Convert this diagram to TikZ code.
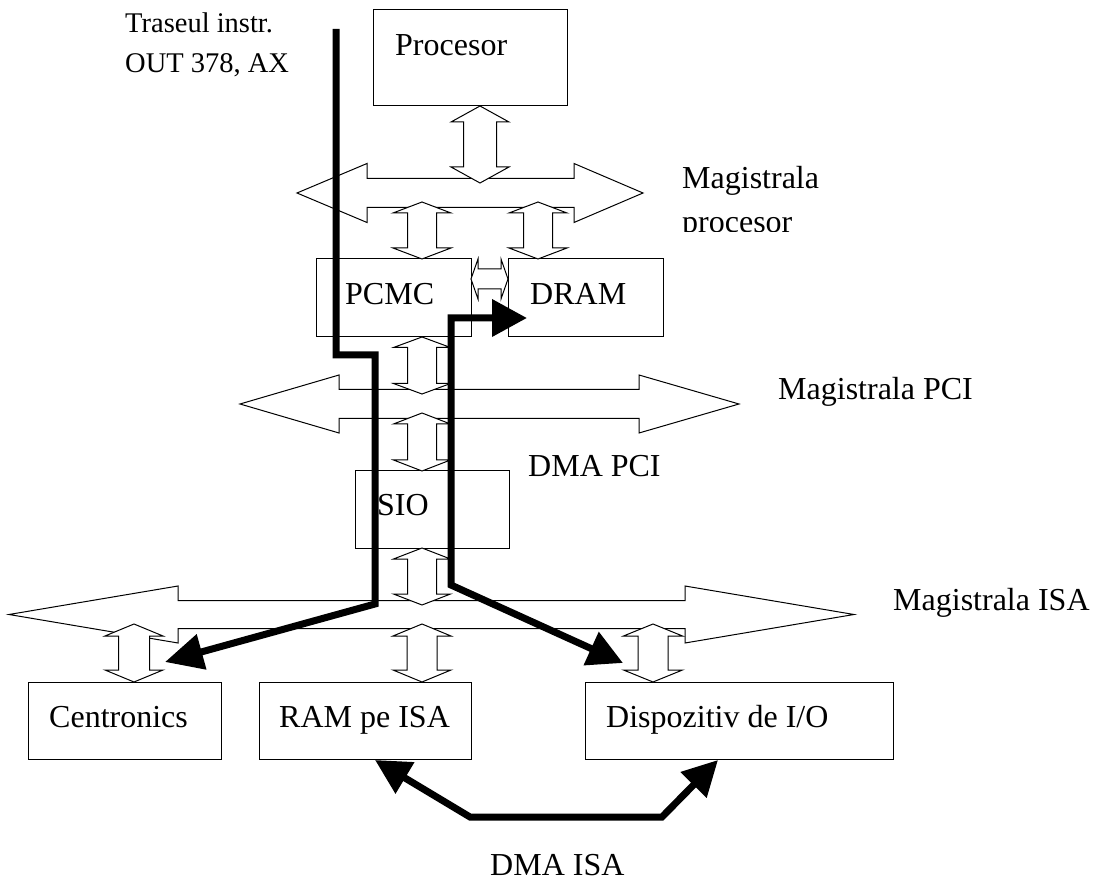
\documentclass[tikz,border=0pt]{standalone}
\usepackage{fontspec}
\setmainfont{Liberation Serif}
\usetikzlibrary{arrows.meta}

% vertical double block arrow: centre x, top y, bottom y, head half-width, shaft half-width, head length
\newcommand{\vdarrow}[6]{%
  \draw[blk] (#1,#2) -- ({#1+#4},{#2+#6}) -- ({#1+#5},{#2+#6}) -- ({#1+#5},{#3-#6})
    -- ({#1+#4},{#3-#6}) -- (#1,#3) -- ({#1-#4},{#3-#6}) -- ({#1-#5},{#3-#6})
    -- ({#1-#5},{#2+#6}) -- ({#1-#4},{#2+#6}) -- cycle;}
% horizontal double block arrow: left tip x, left head base x, right head base x, right tip x, centre y, head half-height, shaft half-height
\newcommand{\hdarrow}[7]{%
  \draw[blk] (#1,#5) -- (#2,{#5-#6}) -- (#2,{#5-#7}) -- (#3,{#5-#7}) -- (#3,{#5-#6})
    -- (#4,#5) -- (#3,{#5+#6}) -- (#3,{#5+#7}) -- (#2,{#5+#7}) -- (#2,{#5+#6}) -- cycle;}

\begin{document}
\begin{tikzpicture}[x=1pt,y=-1pt,
  box/.style={draw, line width=1pt, fill=white, inner sep=0pt},
  lbl/.style={anchor=base west, inner sep=0pt, font=\fontsize{32}{38}\selectfont},
  note/.style={anchor=base west, inner sep=0pt, font=\fontsize{28.5}{40}\selectfont},
  blk/.style={draw, line width=1pt, fill=white, line join=miter},
  route/.style={line width=7pt, line join=miter}]

\useasboundingbox (0,0) rectangle (1093,882);

% component boxes
\node[box, minimum width=194pt, minimum height=96pt] (proc) at (470,58) {};
\node[box, minimum width=155pt, minimum height=78pt] (pcmc) at (393.5,298) {};
\node[box, minimum width=155pt, minimum height=78pt] (dram) at (585.5,298) {};
\node[box, minimum width=154pt, minimum height=77pt] (sio) at (432,509.5) {};
\node[box, minimum width=193pt, minimum height=77pt] (cent) at (124.5,720.5) {};
\node[box, minimum width=212pt, minimum height=77pt] (ram) at (365,720.5) {};
\node[box, minimum width=308pt, minimum height=77pt] (dev) at (739,720.5) {};

% buses
\hdarrow{297}{367}{574}{643}{193}{29.5}{14.5}
\hdarrow{240}{339}{639}{739}{404}{29}{14.5}
\hdarrow{9}{178}{685}{854}{614.5}{28.5}{14}

% links between components and buses
\vdarrow{480}{106}{183}{29}{16.5}{16}
\vdarrow{422}{202}{259}{29}{14.5}{11}
\vdarrow{538}{202}{259}{29}{14.5}{11}
\vdarrow{422}{337}{394}{28.5}{14.5}{10.5}
\vdarrow{422}{413}{471}{28.5}{14.5}{11}
\vdarrow{422}{548}{605}{28.5}{14.5}{11}
\vdarrow{134}{624}{682}{29}{15.5}{12}
\vdarrow{422}{624}{682}{29}{15}{12}
\vdarrow{653}{624}{682}{29.5}{15}{12}
\hdarrow{471}{478}{501}{508}{279}{20}{10}

% labels
\node[lbl] (tproc) at (395,56) {Procesor};
\node[lbl] (tpcmc) at (345,305) {PCMC};
\node[lbl] (tdram) at (530,305) {DRAM};
\node[lbl] (tsio) at (377,515) {SIO};
\node[lbl] (tcent) at (49,727) {Centronics};
\node[lbl] (tram) at (279,727) {RAM pe ISA};
\node[lbl] (tdev) at (606,727) {Dispozitiv de I/O};
\node[lbl] (tpci) at (778,400) {Magistrala PCI};
\node[lbl] (tisa) at (893,610) {Magistrala ISA};
\node[lbl] (tdmapci) at (528,477) {DMA PCI};
\node[lbl] (tdmaisa) at (490,875) {DMA ISA};
\node[lbl] (tmag) at (682,189) {Magistrala};
\begin{scope}
  \clip (670,160) rectangle (900,232);
  \node[lbl] (tprocbus) at (682,233) {procesor};
\end{scope}
\node[note] (ttr1) at (125,33) {Traseul instr.};
\node[note] (ttr2) at (125,73) {OUT 378, AX};

% route of the OUT instruction
\coordinate (a0) at (336,29);
\coordinate (a1) at (336,355);
\coordinate (a2) at (375,355);
\coordinate (a3) at (375,604);
\coordinate (centtip) at (165,662);
\draw[route, -{Triangle[length=38pt,width=35pt]}] (a0) -- (a1) -- (a2) -- (a3) -- (centtip);

% PCI DMA route
\coordinate (dramtip) at (527,318);
\coordinate (b1) at (451,318);
\coordinate (b2) at (451,585);
\coordinate (devtip) at (623,663);
\draw[route, {Triangle[length=35pt,width=36pt]}-{Triangle[length=35pt,width=35pt]}] (dramtip) -- (b1) -- (b2) -- (devtip);

% ISA DMA route
\coordinate (ramtip) at (375,760);
\coordinate (c1) at (470,817);
\coordinate (c2) at (662,817);
\coordinate (devtip2) at (718,760);
\draw[route, {Triangle[length=35pt,width=35pt]}-{Triangle[length=35pt,width=35pt]}] (ramtip) -- (c1) -- (c2) -- (devtip2);
\end{tikzpicture}
\end{document}
